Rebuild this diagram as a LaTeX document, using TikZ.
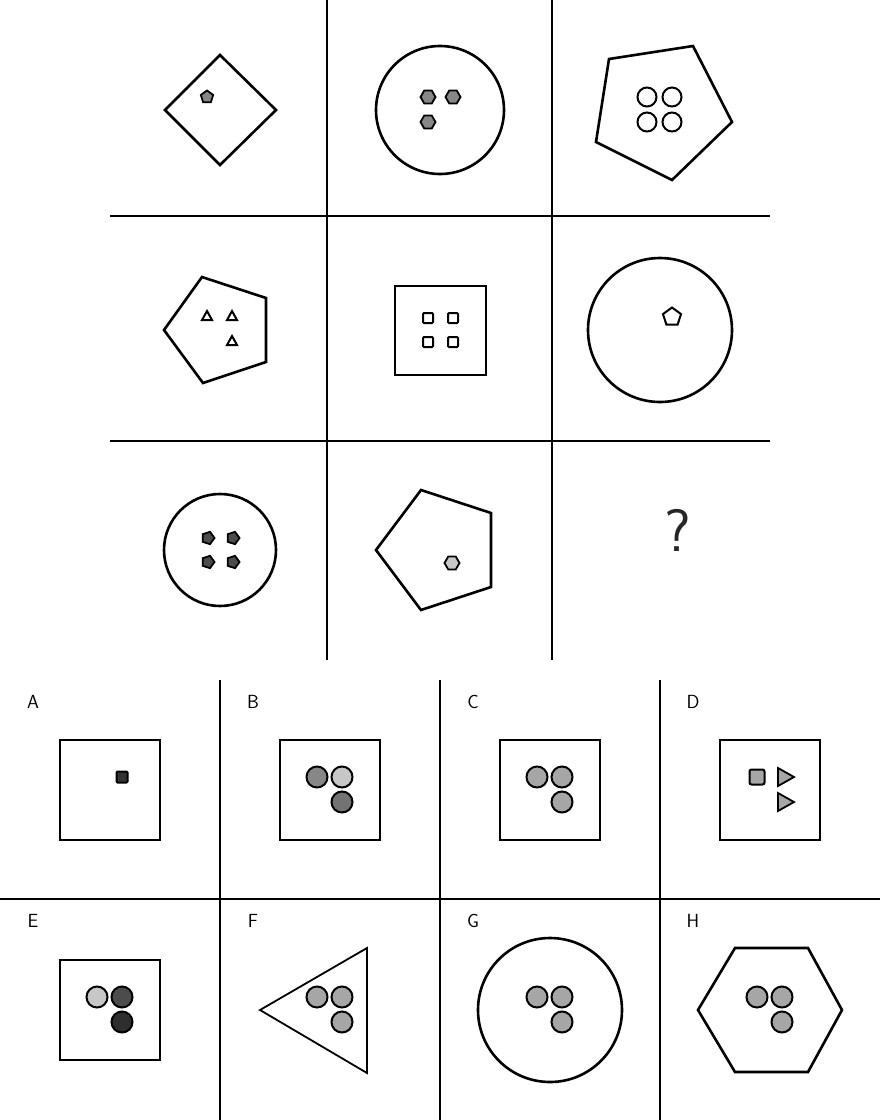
\documentclass[tikz,border=0pt]{standalone}
\usetikzlibrary{shapes.geometric}
\begin{document}
\begin{tikzpicture}[x=1pt,y=-1pt,
  grid/.style={line width=1.5pt},
  big/.style={line width=2.6pt, line join=miter},
  bigthin/.style={line width=1.8pt, line join=miter},
  pent/.style={regular polygon, regular polygon sides=5, draw, line width=1.8pt, inner sep=0pt, minimum size=13pt},
  hexa/.style={regular polygon, regular polygon sides=6, draw, line width=1.8pt, inner sep=0pt, minimum size=15pt},
  dot/.style={circle, draw, line width=2pt, inner sep=0pt, minimum size=19pt},
  ball/.style={circle, draw, line width=2pt, inner sep=0pt, minimum size=21pt},
  sq/.style={rectangle, draw, line width=2pt, rounded corners=1pt, inner sep=0pt, minimum size=10pt},
  lab/.style={font=\sffamily\fontsize{19}{19}\selectfont, inner sep=0pt},
  gA/.style={fill=black!47},
  gB/.style={fill=black!22},
  gC/.style={fill=black!35},
  gD/.style={fill=black!55},
  gE/.style={fill=black!70},
  gF/.style={fill=black!82},
]
\useasboundingbox (0,0) rectangle (880,1120);
% grid of the matrix
\draw[grid] (327,0) -- (327,660);
\draw[grid] (552,0) -- (552,660);
\draw[grid] (110,216) -- (770,216);
\draw[grid] (110,441) -- (770,441);
% answer grid
\draw[grid] (0,899) -- (880,899);
\draw[grid] (220,680) -- (220,1120);
\draw[grid] (440,680) -- (440,1120);
\draw[grid] (660,680) -- (660,1120);

% row 1
\draw[big] (220,55) -- (276,110) -- (220,165) -- (165,110) -- cycle;
\node[pent, gA] (p11) at (207,97) {};
\draw[big] (440,110) circle (64);
\node[hexa, gA] (h21) at (428,97) {};
\node[hexa, gA] (h22) at (453,97) {};
\node[hexa, gA] (h23) at (428,122) {};
\draw[big] (609,59) -- (693,46) -- (732,122) -- (672,180) -- (596,142) -- cycle;
\node[dot] (c31) at (647,97) {};
\node[dot] (c32) at (672,97) {};
\node[dot] (c33) at (647,122) {};
\node[dot] (c34) at (672,122) {};

% row 2
\draw[big] (202,277) -- (266,298) -- (266,362) -- (203,383) -- (164,330) -- cycle;
\foreach \x/\y in {207/316, 232/316, 232/341}
  \draw[line width=2pt] (\x-5,\y+4) -- (\x,\y-5) -- (\x+5,\y+4) -- cycle;
\draw[big] (395,286) rectangle (486,375);
\node[sq] (s1) at (428,318) {};
\node[sq] (s2) at (453,318) {};
\node[sq] (s3) at (428,342) {};
\node[sq] (s4) at (453,342) {};
\draw[big] (660,330) circle (72);
\node[pent, minimum size=19pt, line width=2pt] (p6) at (672,317) {};

% row 3
\draw[big] (220,550) circle (56);
\foreach \x/\y [count=\i] in {208/538, 233/538, 208/562, 233/562}
  \node[pent, gE, shape border rotate=-90] (q\i) at (\x,\y) {};
\draw[big] (421,490) -- (491,513) -- (491,587) -- (421,610) -- (376,550) -- cycle;
\node[hexa, gB, minimum size=15pt] (h8) at (452,563) {};
\node[font=\sffamily\fontsize{60}{60}\selectfont, inner sep=0pt, text=black!85] (qm) at (678,530) {?};

% options row 1
\node[lab] (lA) at (33,702) {A};
\node[lab] (lB) at (253,702) {B};
\node[lab] (lC) at (473,702) {C};
\node[lab] (lD) at (693,702) {D};
\draw[big] (60,740) rectangle (160,840);
\node[sq, fill=black!80, minimum size=11pt] (a1) at (122,777) {};
\draw[big] (280,740) rectangle (380,840);
\node[ball, gA] (b1) at (317,777) {};
\node[ball, gB] (b2) at (342,777) {};
\node[ball, gD] (b3) at (342,802) {};
\draw[big] (500,740) rectangle (600,840);
\node[ball, gC] (c1) at (537,777) {};
\node[ball, gC] (c2) at (562,777) {};
\node[ball, gC] (c3) at (562,802) {};
\draw[big] (720,740) rectangle (820,840);
\node[sq, gC, minimum size=15pt, rounded corners=2pt] (d1) at (757,777) {};
\foreach \y in {777, 802}
  \draw[line width=1.8pt, fill=black!35] (778,\y-9) -- (794,\y) -- (778,\y+9) -- cycle;

% options row 2
\node[lab] (lE) at (33,921) {E};
\node[lab] (lF) at (253,921) {F};
\node[lab] (lG) at (473,921) {G};
\node[lab] (lH) at (693,921) {H};
\draw[big] (60,960) rectangle (160,1060);
\node[ball, gB] (e1) at (97,997) {};
\node[ball, gE] (e2) at (122,997) {};
\node[ball, gF] (e3) at (122,1022) {};
\draw[bigthin] (260,1010) -- (367,948) -- (367,1073) -- cycle;
\node[ball, gC] (f1) at (317,997) {};
\node[ball, gC] (f2) at (342,997) {};
\node[ball, gC] (f3) at (342,1022) {};
\draw[big] (550,1010) circle (72);
\node[ball, gC] (g1) at (537,997) {};
\node[ball, gC] (g2) at (562,997) {};
\node[ball, gC] (g3) at (562,1022) {};
\draw[big] (735,948) -- (808,948) -- (842,1010) -- (808,1072) -- (735,1072) -- (698,1010) -- cycle;
\node[ball, gC] (k1) at (757,997) {};
\node[ball, gC] (k2) at (782,997) {};
\node[ball, gC] (k3) at (782,1022) {};
\end{tikzpicture}
\end{document}
